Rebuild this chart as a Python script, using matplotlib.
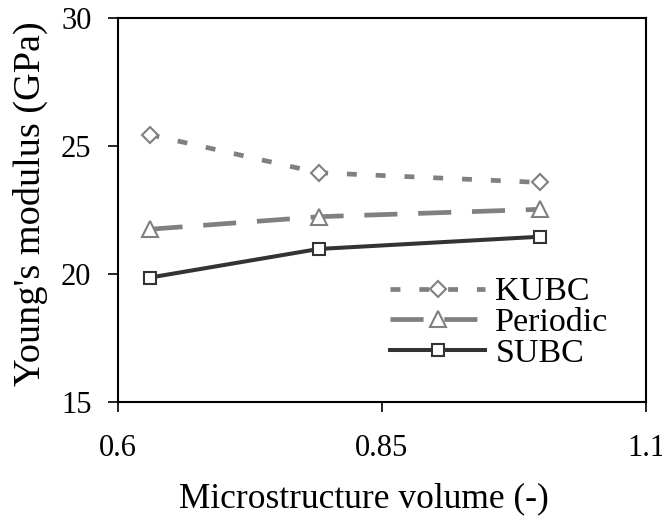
import matplotlib.pyplot as plt


volume = [0.63, 0.79, 1.0]

kubc = [25.45, 23.96, 23.58]
periodic = [21.75, 22.24, 22.53]
subc = [19.86, 20.98, 21.46]

x_ticks = [0.6, 0.85, 1.1]
x_tick_labels = ["0.6", "0.85", "1.1"]
y_ticks = [15, 20, 25, 30]


def make_figure():

    plt.rcParams["font.family"] = ["Liberation Serif", "DejaVu Serif"]

    fig = plt.figure(figsize=(6.62, 5.2), dpi=100)

    ax = fig.add_axes([0.178, 0.227, 0.798, 0.738])

    return fig, ax


def draw_series(ax):

    ax.plot(
        volume, kubc,
        color="#808080",
        linewidth=3.4,
        dashes=(2.1, 4.0),
        marker="D",
        markersize=8,
        markerfacecolor="white",
        markeredgecolor="#808080",
        markeredgewidth=1.5,
        label="KUBC"
    )

    ax.plot(
        volume, periodic,
        color="#808080",
        linewidth=3.4,
        dashes=(7.0, 4.4),
        marker="^",
        markersize=11,
        markerfacecolor="white",
        markeredgecolor="#808080",
        markeredgewidth=1.5,
        label="Periodic"
    )

    ax.plot(
        volume, subc,
        color="#333333",
        linewidth=2.9,
        marker="s",
        markersize=9,
        markerfacecolor="white",
        markeredgecolor="#333333",
        markeredgewidth=1.5,
        label="SUBC"
    )


def style_axes(ax):

    ax.set_xlim(0.6, 1.1)
    ax.set_ylim(15, 30)

    ax.set_xticks(x_ticks)
    ax.set_xticklabels(x_tick_labels)
    ax.set_yticks(y_ticks)

    ax.tick_params(
        direction="out",
        length=7,
        width=1.2,
        labelsize=22
    )
    ax.tick_params(axis="x", pad=16)
    ax.tick_params(axis="y", pad=12)

    for spine in ax.spines.values():
        spine.set_linewidth(1.5)

    ax.set_xlabel("Microstructure volume (-)", fontsize=25.5, labelpad=14)
    ax.xaxis.label.set_x(0.466)

    ax.set_ylabel("Young's modulus (GPa)", fontsize=27.5, labelpad=9)
    ax.yaxis.label.set_y(0.516)

    ax.legend(
        loc="center left",
        bbox_to_anchor=(0.515, 0.206),
        frameon=False,
        fontsize=24.5,
        handlelength=2.8,
        handletextpad=0.3,
        labelspacing=0.0,
        borderpad=0,
        borderaxespad=0
    )


def main():

    fig, ax = make_figure()

    draw_series(ax)

    style_axes(ax)

    fig.savefig("out.png", dpi=100)

    plt.close(fig)


if __name__ == "__main__":
    main()
